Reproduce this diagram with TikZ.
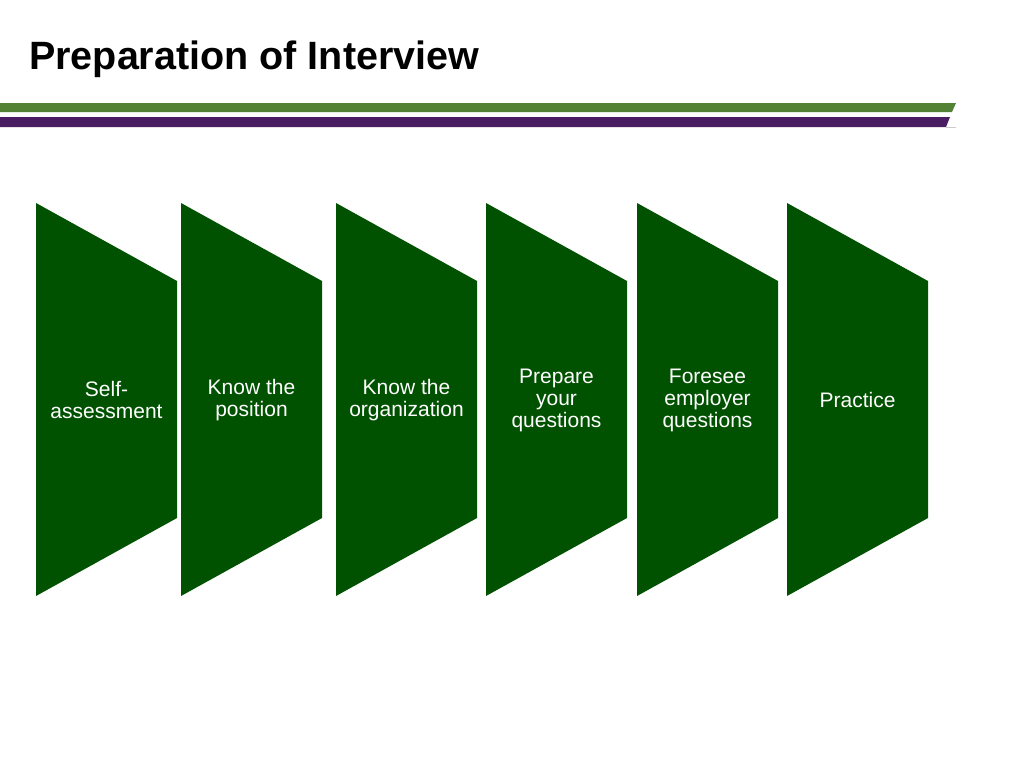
\documentclass[tikz,border=0pt]{standalone}
\usepackage{fontspec}
\setmainfont{Liberation Sans}
\definecolor{stepgreen}{RGB}{0,82,0}
\definecolor{bargreen}{RGB}{84,130,53}
\definecolor{barpurple}{RGB}{75,30,100}
\begin{document}
\begin{tikzpicture}[x=1pt,y=-1pt,
  stepshape/.style={fill=stepgreen,draw=none},
  steptext/.style={text=white,font=\fontsize{21}{22}\selectfont,align=center,inner sep=0pt}]
\useasboundingbox[fill=white] (0,0) rectangle (1024,768);
\node[anchor=west,inner sep=0pt,font=\bfseries\fontsize{39.5}{44}\selectfont] (title) at (29,59) {Preparation of Interview};
\fill[bargreen] (0,103) -- (956,103) -- (952,112) -- (0,112) -- cycle;
\fill[barpurple] (0,117) -- (950,117) -- (946,127) -- (0,127) -- cycle;
\draw[gray!40,line width=0.8pt] (946,127.5) -- (956,127.5);
\foreach \x/\name/\t in {36/s1/{Self-\\assessment},181/s2/{Know the\\position},336/s3/{Know the\\organization},486/s4/{Prepare\\your\\questions},637/s5/{Foresee\\employer\\questions},787/s6/{Practice}}{
  \fill[stepshape] (\x,203) -- (\x+141,281) -- (\x+141,518) -- (\x,596) -- cycle;
  \node[steptext] (\name) at (\x+70.5,400) {\t};
}
\end{tikzpicture}
\end{document}
